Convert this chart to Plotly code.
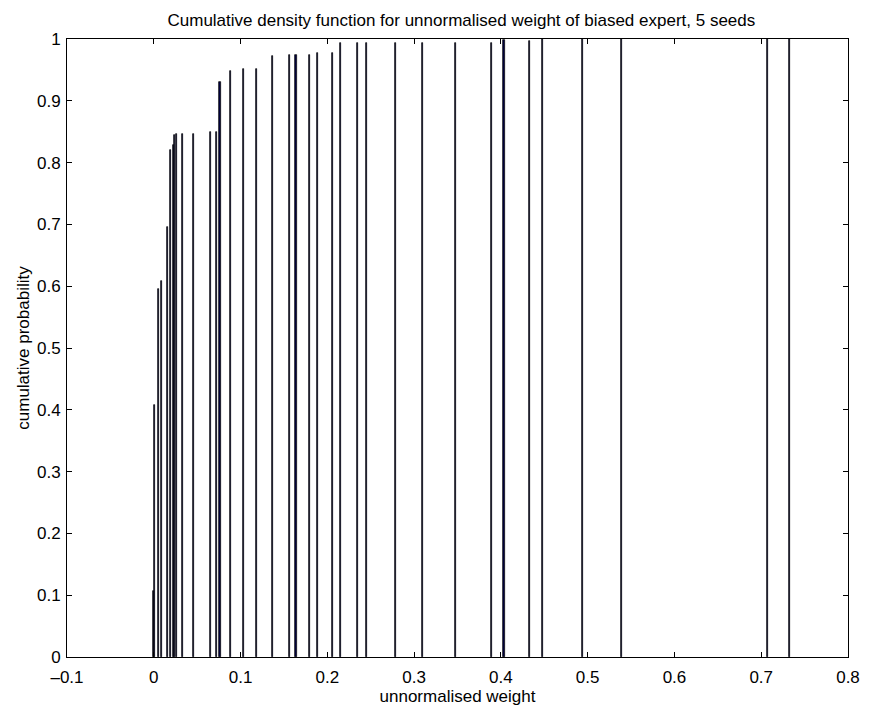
import plotly.graph_objects as go

weights = [0.0, 0.001, 0.0052, 0.0091, 0.0156, 0.0195, 0.0225, 0.0241, 0.0264,
           0.0333, 0.0455, 0.0656, 0.0725, 0.0763, 0.0886, 0.1031, 0.1183,
           0.1369, 0.1566, 0.1639, 0.1797, 0.1884, 0.2057, 0.2157, 0.2350,
           0.2453, 0.2788, 0.3099, 0.3482, 0.3894, 0.4036, 0.4327, 0.4477,
           0.4942, 0.5392, 0.7074, 0.7323]
cum_prob = [0.107, 0.408, 0.596, 0.609, 0.695, 0.821, 0.829, 0.845, 0.847,
            0.847, 0.847, 0.850, 0.850, 0.931, 0.949, 0.951, 0.951,
            0.972, 0.974, 0.974, 0.974, 0.978, 0.978, 0.994, 0.994,
            0.994, 0.994, 0.994, 0.994, 0.994, 0.998, 0.996, 1.0,
            1.0, 1.0, 1.0, 1.0]

x_ticks = [-0.1, 0, 0.1, 0.2, 0.3, 0.4, 0.5, 0.6, 0.7, 0.8]
x_tick_text = ["\u20130.1", "0", "0.1", "0.2", "0.3", "0.4", "0.5", "0.6", "0.7", "0.8"]
y_ticks = [0, 0.1, 0.2, 0.3, 0.4, 0.5, 0.6, 0.7, 0.8, 0.9, 1]
y_tick_text = ["0", "0.1", "0.2", "0.3", "0.4", "0.5", "0.6", "0.7", "0.8", "0.9", "1"]

font = "Liberation Sans, Arial, Helvetica, sans-serif"

fig = go.Figure()
fig.add_trace(go.Bar(
    x=weights, y=cum_prob, width=0.0012,
    marker=dict(color="#000040", line=dict(color="black", width=0.7)),
    showlegend=False,
))

axis_common = dict(
    showgrid=False, zeroline=False, showline=True, linecolor="black", linewidth=1,
    mirror="allticks", ticks="inside", ticklen=5, tickcolor="black", tickwidth=1,
    tickfont=dict(family=font, size=17, color="black"), automargin=False,
)

fig.update_layout(
    width=869, height=708,
    margin=dict(l=67, r=21, t=39, b=51),
    paper_bgcolor="white", plot_bgcolor="white",
    bargap=0,
    title=dict(
        text="Cumulative density function for unnormalised weight of biased expert, 5 seeds",
        x=0.505, xref="paper", xanchor="center", y=0.972, yanchor="middle",
        font=dict(family=font, size=17, color="black"), automargin=False,
    ),
    xaxis=dict(
        range=[-0.1, 0.8], tickvals=x_ticks, ticktext=x_tick_text, ticklabelstandoff=5,
        title=dict(text="unnormalised weight", font=dict(family=font, size=17, color="black"), standoff=3),
        **axis_common,
    ),
    yaxis=dict(
        range=[0, 1], tickvals=y_ticks, ticktext=y_tick_text, ticklabelstandoff=2,
        title=dict(text="cumulative probability", font=dict(family=font, size=17, color="black"), standoff=3),
        **axis_common,
    ),
)

fig.write_html("out.html")
